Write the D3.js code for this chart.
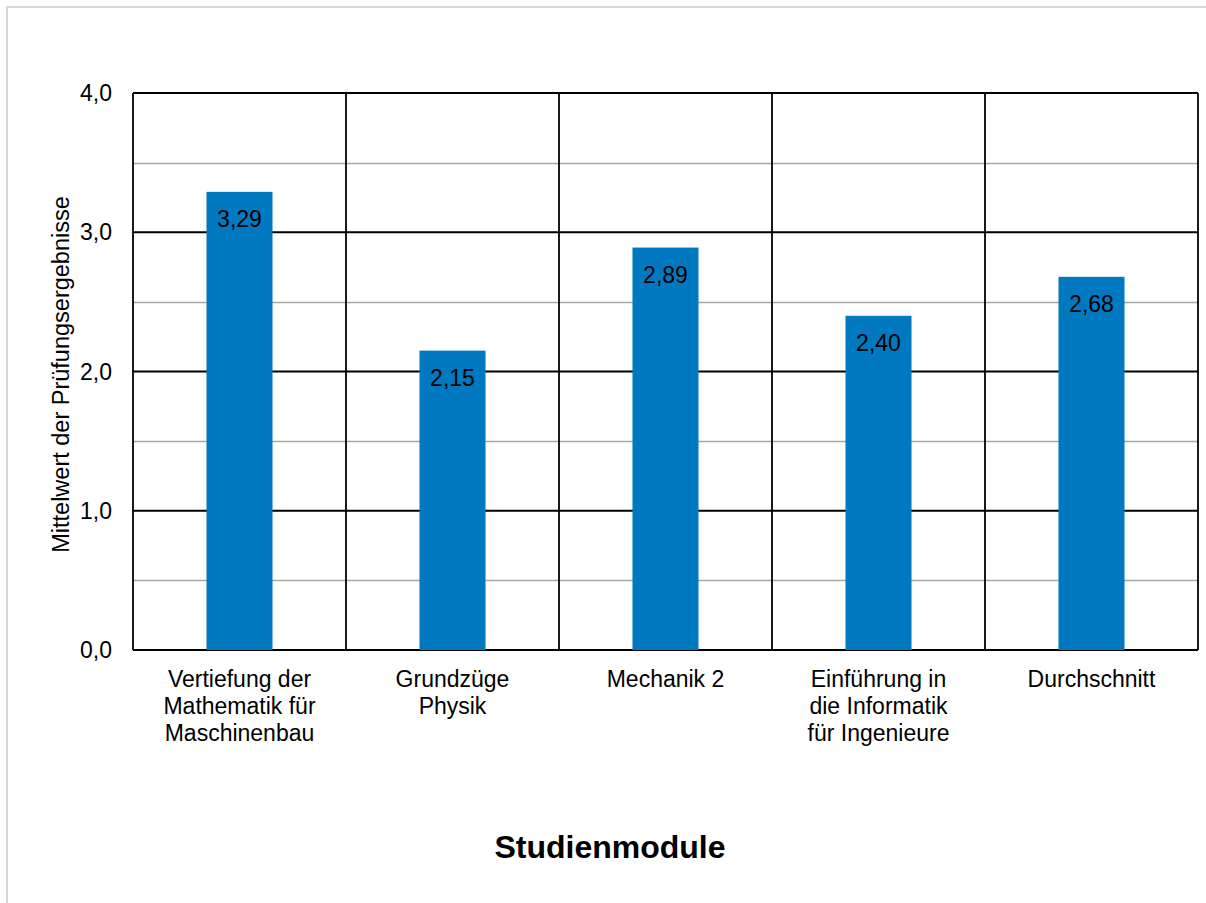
<!DOCTYPE html>
<html>
<head>
<meta charset="utf-8">
<script src="https://cdn.jsdelivr.net/npm/d3@7/dist/d3.min.js"></script>
<style>
  html, body { margin: 0; padding: 0; background: #fff; }
  svg { display: block; font-family: "Liberation Sans", Arial, sans-serif; }
</style>
</head>
<body>
<svg id="chart" width="1206" height="903"></svg>
<script>
// Module names (one array entry per line of the label) and mean exam results
const categories = [
  ["Vertiefung der", "Mathematik für", "Maschinenbau"],
  ["Grundzüge", "Physik"],
  ["Mechanik 2"],
  ["Einführung in", "die Informatik", "für Ingenieure"],
  ["Durchschnitt"]
];
const values = [3.29, 2.15, 2.89, 2.40, 2.68];
const majorTicks = [0, 1, 2, 3, 4];
const minorTicks = [0.5, 1.5, 2.5, 3.5];
const yTitle = "Mittelwert der Prüfungsergebnisse";
const xTitle = "Studienmodule";

const svg = d3.select("#chart");
const W = 1206, H = 903;
const plot = { left: 133, top: 93, right: 1198, bottom: 650 };
const fmt = v => d3.format(".1f")(v).replace(".", ",");
const fmt2 = v => d3.format(".2f")(v).replace(".", ",");
const FS = 23;

// outer chart frame
svg.append("rect")
  .attr("x", 7).attr("y", 7)
  .attr("width", W).attr("height", H)
  .attr("fill", "#fff")
  .attr("stroke", "#d9d9d9").attr("stroke-width", 2);

const x = d3.scaleBand()
  .domain(d3.range(categories.length))
  .range([plot.left, plot.right])
  .paddingInner(0).paddingOuter(0);

const y = d3.scaleLinear().domain([0, 4]).range([plot.bottom, plot.top]);

// minor horizontal gridlines
svg.append("g").selectAll("line").data(minorTicks).join("line")
  .attr("x1", plot.left).attr("x2", plot.right)
  .attr("y1", d => Math.round(y(d)) + 0.5).attr("y2", d => Math.round(y(d)) + 0.5)
  .attr("stroke", "#a6a6a6").attr("stroke-width", 1.5);

// major horizontal gridlines
svg.append("g").selectAll("line").data(majorTicks).join("line")
  .attr("x1", plot.left).attr("x2", plot.right)
  .attr("y1", d => y(d)).attr("y2", d => y(d))
  .attr("stroke", "#000").attr("stroke-width", 1.8);

// vertical category separators
const seps = d3.range(categories.length + 1).map(i => plot.left + i * x.step());
svg.append("g").selectAll("line").data(seps).join("line")
  .attr("x1", d => d).attr("x2", d => d)
  .attr("y1", plot.top).attr("y2", plot.bottom)
  .attr("stroke", "#000").attr("stroke-width", 1.8);

// bars
const barW = x.step() * 0.31;
svg.append("g").selectAll("rect").data(values).join("rect")
  .attr("x", (d, i) => x(i) + x.bandwidth() / 2 - barW / 2)
  .attr("width", barW)
  .attr("y", d => y(d))
  .attr("height", d => y(0) - y(d))
  .attr("fill", "#0079c1");

// value labels inside the top of each bar
svg.append("g").selectAll("text").data(values).join("text")
  .attr("x", (d, i) => x(i) + x.bandwidth() / 2)
  .attr("y", d => y(d) + 35)
  .attr("text-anchor", "middle")
  .attr("font-size", FS)
  .attr("fill", "#000")
  .text(d => fmt2(d));

// y tick labels
svg.append("g").selectAll("text").data(majorTicks).join("text")
  .attr("x", 112)
  .attr("y", d => y(d) + 8)
  .attr("text-anchor", "end")
  .attr("font-size", FS)
  .attr("fill", "#000")
  .text(d => fmt(d));

// category labels
const catG = svg.append("g").selectAll("text").data(categories).join("text")
  .attr("x", (d, i) => x(i) + x.bandwidth() / 2)
  .attr("y", 687)
  .attr("text-anchor", "middle")
  .attr("font-size", FS)
  .attr("fill", "#000");
catG.selectAll("tspan").data(d => d).join("tspan")
  .attr("x", function () { return d3.select(this.parentNode).attr("x"); })
  .attr("dy", (d, i) => i === 0 ? 0 : 27)
  .text(d => d);

// axis titles
svg.append("text")
  .attr("transform", `translate(69, 374.5) rotate(-90)`)
  .attr("text-anchor", "middle")
  .attr("font-size", 23.5)
  .attr("fill", "#000")
  .text(yTitle);

svg.append("text")
  .attr("x", 610)
  .attr("y", 858)
  .attr("text-anchor", "middle")
  .attr("font-size", 32)
  .attr("font-weight", "bold")
  .attr("fill", "#000")
  .text(xTitle);
</script>
</body>
</html>
